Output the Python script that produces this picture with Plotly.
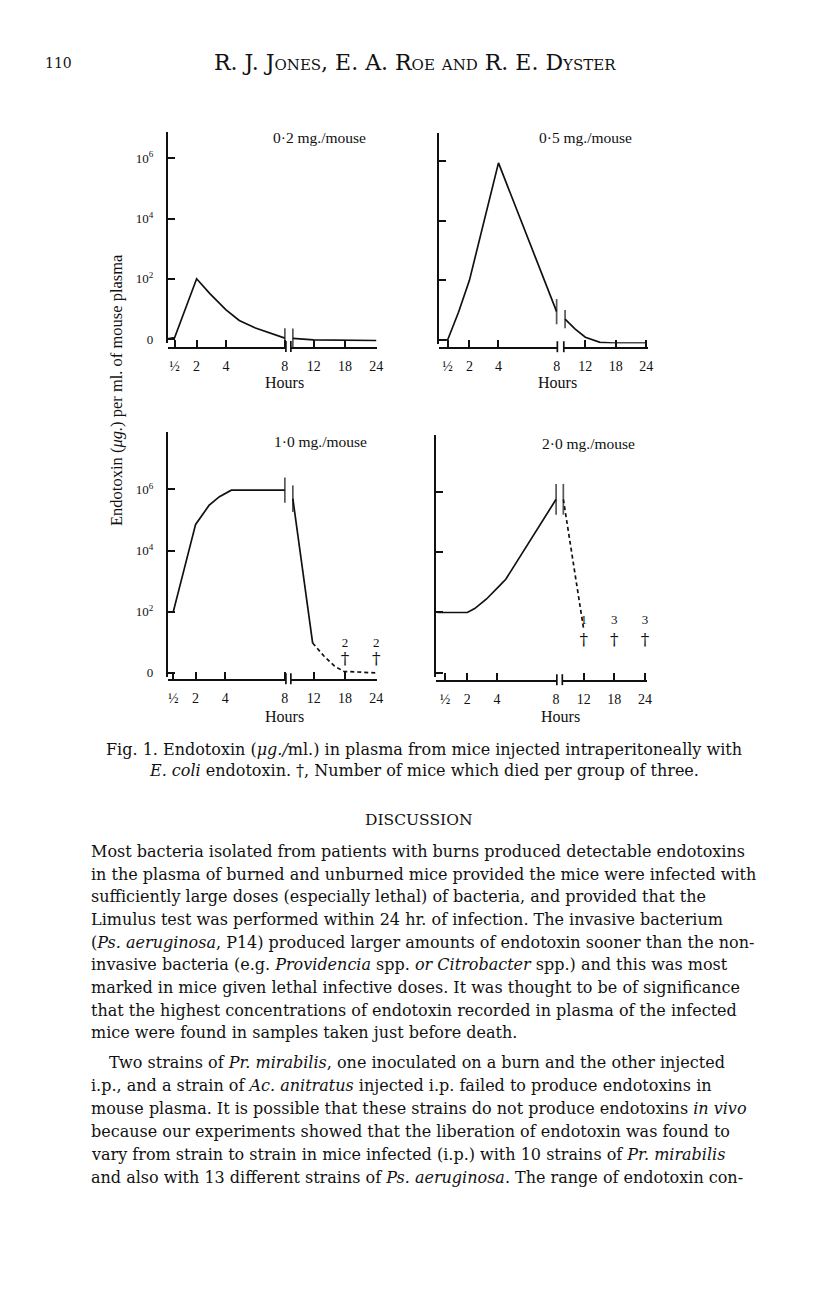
import plotly.graph_objects as go

# the page body has an 8px margin, so the figure is 800 x 1273 and page pixels are shifted by 8
OFF = 8
W, H = 800, 1273
def X(px): return (px - OFF) / W
def Y(py): return 1 - (py - OFF) / H
def ax(letter, n): return letter if n == 1 else f"{letter}{n}"

# ---------------- data (endotoxin, ug/ml; the "0" tick is drawn at 1 on the log axis) ----------------
hour_ticks_left = [0.5, 2, 4, 8]
hour_ticklabels_left = ["½", "2", "4", "8"]
hour_ticks_right = [12, 18, 24]
hour_ticklabels_right = ["12", "18", "24"]
y_tickvals = [1, 1e2, 1e4, 1e6]
y_ticklabels = ["0", "10<sup>2</sup>", "10<sup>4</sup>", "10<sup>6</sup>"]

dose_labels = ["0·2 mg./mouse", "0·5 mg./mouse", "1·0 mg./mouse", "2·0 mg./mouse"]

# 0.2 mg/mouse
d02_left_h = [0, 0.5, 2, 2.9, 4, 4.9, 6, 7.2, 8]
d02_left_v = [1, 1.1, 100, 32, 9.3, 4.1, 2.3, 1.5, 1.07]
d02_right_h = [8, 12, 24]
d02_right_v = [1.05, 0.93, 0.89]

# 0.5 mg/mouse
d05_left_h = [0, 0.5, 1.25, 2, 4, 8]
d05_left_v = [1, 1, 8.5, 100, 8.7e5, 8.9]
d05_right_h = [8, 10, 12, 14.9, 17.5, 24]
d05_right_v = [5.0, 2.3, 1.23, 0.83, 0.79, 0.79]

# 1.0 mg/mouse
d10_left_h = [0, 0.5, 2, 2.9, 3.6, 4.4, 8]
d10_left_v = [100, 100, 7.2e4, 3.0e5, 5.8e5, 9.5e5, 9.5e5]
d10_right_h = [8, 11.8]
d10_right_v = [5.0e5, 9.5]
d10_dash_h = [11.8, 14, 16, 17.8, 24]
d10_dash_v = [9.5, 3.5, 1.66, 1.12, 1.0]
d10_death_h = [18, 24]
d10_deaths = [2, 2]

# 2.0 mg/mouse
d20_left_h = [0, 2, 2.5, 3.3, 4.2, 4.6, 8]
d20_left_v = [100, 100, 135, 280, 790, 1260, 5.6e5]
d20_dash_h = [8, 12]
d20_dash_v = [5.6e5, 27]
d20_death_h = [12, 18, 24]
d20_deaths = [1, 3, 3]

# ---------------- layout geometry (pixels of the page) ----------------
panels = [
    dict(zero=340, per=30.2, top=132, axis_y=349.0, ldom=(169, 288), lrng=(0.04, 8.07),
         rdom=(293, 380), rrng=(7.62, 24.19), labels=True),
    dict(zero=341, per=29.9, top=133, axis_y=349.3, ldom=(442, 561.5), lrng=(-0.11, 8.05),
         rdom=(568, 653), rrng=(7.75, 24.39), labels=False),
    dict(zero=675, per=30.67, top=433, axis_y=682.3, ldom=(169, 288), lrng=(0.13, 8.07),
         rdom=(293, 380), rrng=(7.62, 24.19), labels=True),
    dict(zero=675, per=30.3, top=436.7, axis_y=683.3, ldom=(439, 561), lrng=(-0.13, 8.05),
         rdom=(566.5, 651.5), rrng=(7.8, 24.33), labels=False),
]
title_pos = [(322, 138), (590, 138), (323, 443), (593, 445)]
hours_pos = [(287, 384), (562, 384), (287, 719), (565, 719)]

SERIF = "Liberation Serif"
BLACK = "#111"
fig = go.Figure()
layout = dict(width=W, height=H, margin=dict(l=0, r=0, t=0, b=0),
              paper_bgcolor="white", plot_bgcolor="rgba(0,0,0,0)", showlegend=False)
shapes, annotations = [], []


def note(text, xp, yp, size, family=SERIF, xanchor="center", **kw):
    font = dict(family=family, size=size, color=BLACK)
    font.update(kw.pop("font_extra", {}))
    annotations.append(dict(text=text, x=X(xp), y=Y(yp), xref="paper", yref="paper",
                            xanchor=xanchor, yanchor="middle", showarrow=False, font=font, **kw))


for i, p in enumerate(panels):
    xl, xr, yy = 2 * i + 1, 2 * i + 2, i + 1
    bottom_v = -0.12
    top_v = (p["zero"] - p["top"]) / p["per"]
    bottom_px = p["zero"] - bottom_v * p["per"]
    common_x = dict(anchor="free", position=Y(p["axis_y"]), showline=True, linecolor=BLACK,
                    linewidth=1.7, ticks="inside", ticklen=7, tickwidth=1.7, tickcolor=BLACK,
                    showgrid=False, zeroline=False, ticklabelstandoff=5,
                    tickfont=dict(family=SERIF, size=14, color=BLACK))
    layout[f"xaxis{xl}"] = dict(common_x, domain=[X(p["ldom"][0]), X(p["ldom"][1])],
                                range=list(p["lrng"]), tickvals=hour_ticks_left,
                                ticktext=hour_ticklabels_left)
    layout[f"xaxis{xr}"] = dict(common_x, domain=[X(p["rdom"][0]), X(p["rdom"][1])],
                                range=list(p["rrng"]), tickvals=hour_ticks_right,
                                ticktext=hour_ticklabels_right)
    layout[f"yaxis{yy}"] = dict(type="log", anchor=ax("x", xl), domain=[Y(bottom_px), Y(p["top"])],
                                range=[bottom_v, top_v], showline=True, linecolor=BLACK,
                                linewidth=1.7, ticks="inside", ticklen=7, tickwidth=1.7,
                                tickcolor=BLACK, showgrid=False, zeroline=False,
                                tickvals=y_tickvals, ticktext=y_ticklabels,
                                showticklabels=p["labels"], ticklabelstandoff=10,
                                tickfont=dict(family=SERIF, size=13, color=BLACK))
    # axis break marks
    for xa, side in ((xl, 1), (xr, 0)):
        shapes.append(dict(type="line", xref=ax("x", xa) + " domain", yref="paper", x0=side, x1=side,
                           y0=Y(p["axis_y"] + 4), y1=Y(p["axis_y"] - 7),
                           line=dict(color=BLACK, width=1.7)))
    note(dose_labels[i], *title_pos[i], 15.5)
    note("Hours", *hours_pos[i], 16)


def curve(h, v, xn, yn, dash="solid", bar_start=0, bar_end=0):
    sizes = [0] * len(h)
    if bar_start:
        sizes[0] = bar_start
    if bar_end:
        sizes[-1] = bar_end
    fig.add_trace(go.Scatter(x=h, y=v, xaxis=ax("x", xn), yaxis=ax("y", yn), mode="lines+markers",
                             line=dict(color=BLACK, width=1.7, dash=dash),
                             marker=dict(symbol="line-ns", size=sizes,
                                         line=dict(color=BLACK, width=1.7)),
                             cliponaxis=False, hoverinfo="skip"))


def deaths(h, n, xn, yn, dagger_y, count_y):
    fig.add_trace(go.Scatter(x=h, y=[dagger_y] * len(h), xaxis=ax("x", xn), yaxis=ax("y", yn),
                             mode="text", text=["†"] * len(h), textposition="middle center",
                             textfont=dict(family="DejaVu Serif", size=17, color=BLACK),
                             cliponaxis=False, hoverinfo="skip"))
    fig.add_trace(go.Scatter(x=h, y=[count_y] * len(h), xaxis=ax("x", xn), yaxis=ax("y", yn),
                             mode="text", text=[str(k) for k in n], textposition="middle center",
                             textfont=dict(family=SERIF, size=13, color=BLACK),
                             cliponaxis=False, hoverinfo="skip"))

dash = "4px,3px"
curve(d02_left_h, d02_left_v, 1, 1, bar_end=14)
curve(d02_right_h, d02_right_v, 2, 1, bar_start=14)
curve(d05_left_h, d05_left_v, 3, 2, bar_end=18)
curve(d05_right_h, d05_right_v, 4, 2, bar_start=13)
curve(d10_left_h, d10_left_v, 5, 3, bar_end=18)
curve(d10_right_h, d10_right_v, 6, 3, bar_start=19)
curve(d10_dash_h, d10_dash_v, 6, 3, dash=dash)
deaths(d10_death_h, d10_deaths, 6, 3, 10 ** 0.44, 10 ** 0.95)
curve(d20_left_h, d20_left_v, 7, 4, bar_end=22)
curve(d20_dash_h, d20_dash_v, 8, 4, dash=dash, bar_start=22)
deaths(d20_death_h, d20_deaths, 8, 4, 10 ** 1.07, 10 ** 1.73)

# y-axis title
note("Endotoxin (<i>μg.</i>) per ml. of mouse plasma", 118, 391, 16.5, textangle=-90)

# ---------------- page text ----------------
BODY = "DejaVu Serif"
note("110", 43, 63, 14, family=BODY, xanchor="left")
note("R. J. Jones, E. A. Roe and R. E. Dyster", 418, 63, 22, family=BODY,
     font_extra=dict(variant="small-caps"))
caption = ["Fig. 1. Endotoxin (<i>μg./</i>ml.) in plasma from mice injected intraperitoneally with",
           "<i>E. coli</i> endotoxin. †, Number of mice which died per group of three."]
for line, yp in zip(caption, [752, 773]):
    note(line, 427, yp, 16, family=BODY)
note("DISCUSSION", 422, 823, 15.5, family=BODY)
body = [
    ("Most bacteria isolated from patients with burns produced detectable endotoxins", 90, 854),
    ("in the plasma of burned and unburned mice provided the mice were infected with", 90, 877),
    ("sufficiently large doses (especially lethal) of bacteria, and provided that the", 90, 899),
    ("Limulus test was performed within 24 hr. of infection. The invasive bacterium", 90, 922),
    ("(<i>Ps. aeruginosa</i>, P14) produced larger amounts of endotoxin sooner than the non-", 90, 945),
    ("invasive bacteria (e.g. <i>Providencia</i> spp. <i>or Citrobacter</i> spp.) and this was most", 90, 968),
    ("marked in mice given lethal infective doses. It was thought to be of significance", 90, 991),
    ("that the highest concentrations of endotoxin recorded in plasma of the infected", 90, 1014),
    ("mice were found in samples taken just before death.", 90, 1036),
    ("Two strains of <i>Pr. mirabilis</i>, one inoculated on a burn and the other injected", 108, 1066),
    ("i.p., and a strain of <i>Ac. anitratus</i> injected i.p. failed to produce endotoxins in", 90, 1089),
    ("mouse plasma. It is possible that these strains do not produce endotoxins <i>in vivo</i>", 90, 1112),
    ("because our experiments showed that the liberation of endotoxin was found to", 90, 1135),
    ("vary from strain to strain in mice infected (i.p.) with 10 strains of <i>Pr. mirabilis</i>", 90, 1158),
    ("and also with 13 different strains of <i>Ps. aeruginosa</i>. The range of endotoxin con-", 90, 1181),
]
for line, xp, yp in body:
    note(line, xp, yp, 16, family=BODY, xanchor="left")

layout["shapes"] = shapes
layout["annotations"] = annotations
fig.update_layout(**layout)
fig.write_html("out.html")
